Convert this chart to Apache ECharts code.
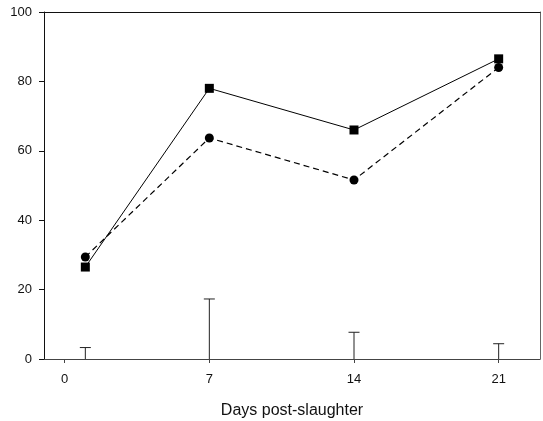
<!DOCTYPE html>
<html><head><meta charset="utf-8">
<script src="https://cdn.jsdelivr.net/npm/echarts@6/dist/echarts.min.js"></script>
<style>html,body{margin:0;padding:0;background:#fff}#c{width:543px;height:421px}</style>
</head><body><div id="c"></div>
<script>
const days = [1, 7, 14, 21];
const squareSeries = [26.5, 78, 66, 86.5];
const circleSeries = [29.4, 63.7, 51.6, 84];
const errorBars = [3.3, 17.3, 7.7, 4.4];
const xTicks = [0, 7, 14, 21];
const yTicks = [0, 20, 40, 60, 80, 100];

const chart = echarts.init(document.getElementById('c'));
const font = 'Liberation Sans, Arial, sans-serif';
chart.setOption({
  animation: false,
  grid: {left: 44, right: 3, top: 12, bottom: 62, containLabel: false, outerBoundsMode: 'none'},
  xAxis: [{
    type: 'value', min: -1, max: 23,
    name: 'Days post-slaughter', nameLocation: 'middle', nameGap: 44,
    nameTextStyle: {fontFamily: font, fontSize: 16, color: '#111'},
    splitLine: {show: false},
    axisLine: {show: true, onZero: false, lineStyle: {color: '#444', width: 1}},
    axisTick: {show: true, length: 4, lineStyle: {color: '#444'},
      customValues: xTicks},
    axisLabel: {fontFamily: font, fontSize: 13, color: '#111', margin: 14,
      customValues: xTicks}
  }, {
    type: 'value', min: -1, max: 23, position: 'top',
    axisLine: {show: true, onZero: false, lineStyle: {color: '#111'}},
    axisTick: {show: false}, axisLabel: {show: false}, splitLine: {show: false}
  }],
  yAxis: [{
    type: 'value', min: 0, max: 100, interval: 20,
    splitLine: {show: false},
    axisLine: {show: true, onZero: false, lineStyle: {color: '#111', width: 1}},
    axisTick: {show: true, length: 5, lineStyle: {color: '#111'}},
    axisLabel: {fontFamily: font, fontSize: 13, color: '#111', margin: 12,
      customValues: yTicks}
  }, {
    type: 'value', min: 0, max: 100, position: 'right',
    axisLine: {show: true, onZero: false, lineStyle: {color: '#666'}},
    axisTick: {show: false}, axisLabel: {show: false}, splitLine: {show: false}
  }],
  series: [{
    type: 'line', data: days.map((d, i) => [d, squareSeries[i]]),
    symbol: 'rect', symbolSize: 9, itemStyle: {color: '#000'},
    lineStyle: {color: '#000', width: 1}
  }, {
    type: 'line', data: days.map((d, i) => [d, circleSeries[i]]),
    symbol: 'circle', symbolSize: 9, itemStyle: {color: '#000'},
    lineStyle: {color: '#000', width: 1.2, type: [6, 4]}
  }, {
    type: 'custom', data: days.map((d, i) => [d, errorBars[i]]),
    renderItem: function (params, api) {
      const base = api.coord([api.value(0), 0]);
      const top = api.coord([api.value(0), api.value(1)]);
      const st = {stroke: '#222', lineWidth: 1};
      return {type: 'group', children: [
        {type: 'line', shape: {x1: base[0], y1: base[1], x2: top[0], y2: top[1]}, style: st},
        {type: 'line', shape: {x1: top[0] - 5.5, y1: top[1], x2: top[0] + 5.5, y2: top[1]}, style: st}
      ]};
    }
  }]
});
</script></body></html>
